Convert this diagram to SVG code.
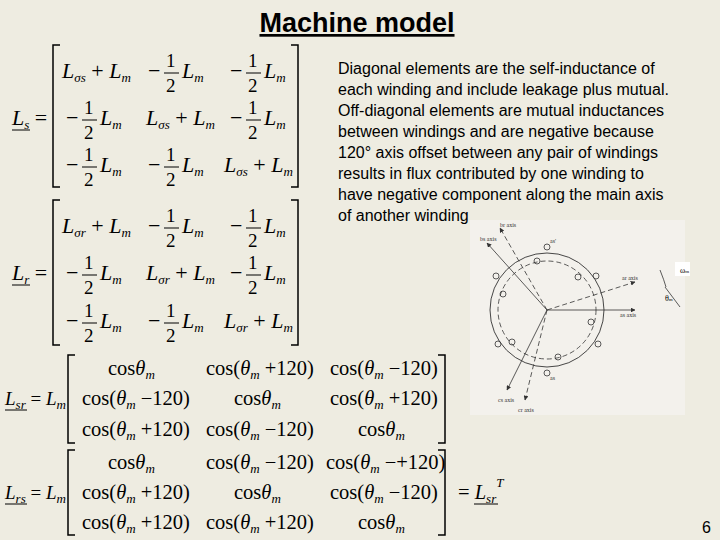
<svg xmlns="http://www.w3.org/2000/svg" width="720" height="540" viewBox="0 0 720 540">
<defs>
<style>
.m{font-family:"Liberation Serif",serif;font-size:22px;fill:#000}
.c{font-size:20.5px}
.i{font-style:italic}
.s{font-size:13px;font-style:italic}
.n{font-size:19px}
.br{fill:none;stroke:#000;stroke-width:1.5}
.t{font-family:"Liberation Sans",Arial,sans-serif;font-size:16px;fill:#000}
.f{font-family:"Liberation Serif",serif;font-size:6px;fill:#333}
.ax{stroke:#333;stroke-width:0.8;fill:none}
</style>
<marker id="a" viewBox="0 0 10 10" refX="9" refY="5" markerWidth="6" markerHeight="6" orient="auto"><path d="M0,0L10,5L0,10z" fill="#333"/></marker>
</defs>
<rect width="720" height="540" fill="#eeece1"/>
<text x="357" y="32" text-anchor="middle" font-family="Liberation Sans,Arial,sans-serif" font-size="27" font-weight="bold" text-decoration="underline">Machine model</text>
<g id="desc" class="t">
<text x="338" y="74">Diagonal elements are the self-inductance of</text>
<text x="338" y="95">each winding and include leakage plus mutual.</text>
<text x="338" y="116">Off-diagonal elements are mutual inductances</text>
<text x="338" y="137">between windings and are negative because</text>
<text x="338" y="158">120° axis offset between any pair of windings</text>
<text x="338" y="179">results in flux contributed by one winding to</text>
<text x="338" y="200">have negative component along the main axis</text>
<text x="338" y="221">of another winding</text>
</g>
<g id="Ls" class="m">
<text x="12" y="125" class="i">L<tspan class="s" dy="4">s</tspan><tspan dy="-4" font-style="normal"> =</tspan></text>
<line x1="12" y1="130" x2="30" y2="130" stroke="#000"/>
<path class="br" d="M60,45H53V187H60M291,45H298V187H291"/>
<text x="62" y="78" class="i">L<tspan class="s" dy="4">σs</tspan><tspan dy="-4" font-style="normal"> + </tspan>L<tspan class="s" dy="4">m</tspan></text>
<text x="148" y="78">− <tspan class="n" x="166" y="67">1</tspan><tspan class="n" x="166" y="92">2</tspan><tspan x="182" y="78" class="i">L</tspan><tspan class="s" dy="4">m</tspan></text>
<line x1="164" y1="73" x2="179" y2="73" stroke="#000"/>
<text x="230" y="78">− <tspan class="n" x="248" y="67">1</tspan><tspan class="n" x="248" y="92">2</tspan><tspan x="264" y="78" class="i">L</tspan><tspan class="s" dy="4">m</tspan></text>
<line x1="246" y1="73" x2="261" y2="73" stroke="#000"/>
<text x="66" y="125">− <tspan class="n" x="84" y="114">1</tspan><tspan class="n" x="84" y="139">2</tspan><tspan x="100" y="125" class="i">L</tspan><tspan class="s" dy="4">m</tspan></text>
<line x1="82" y1="120" x2="97" y2="120" stroke="#000"/>
<text x="146" y="125" class="i">L<tspan class="s" dy="4">σs</tspan><tspan dy="-4" font-style="normal"> + </tspan>L<tspan class="s" dy="4">m</tspan></text>
<text x="230" y="125">− <tspan class="n" x="248" y="114">1</tspan><tspan class="n" x="248" y="139">2</tspan><tspan x="264" y="125" class="i">L</tspan><tspan class="s" dy="4">m</tspan></text>
<line x1="246" y1="120" x2="261" y2="120" stroke="#000"/>
<text x="66" y="172">− <tspan class="n" x="84" y="161">1</tspan><tspan class="n" x="84" y="186">2</tspan><tspan x="100" y="172" class="i">L</tspan><tspan class="s" dy="4">m</tspan></text>
<line x1="82" y1="167" x2="97" y2="167" stroke="#000"/>
<text x="148" y="172">− <tspan class="n" x="166" y="161">1</tspan><tspan class="n" x="166" y="186">2</tspan><tspan x="182" y="172" class="i">L</tspan><tspan class="s" dy="4">m</tspan></text>
<line x1="164" y1="167" x2="179" y2="167" stroke="#000"/>
<text x="224" y="172" class="i">L<tspan class="s" dy="4">σs</tspan><tspan dy="-4" font-style="normal"> + </tspan>L<tspan class="s" dy="4">m</tspan></text>
</g>
<g id="Lr" class="m">
<text x="12" y="280" class="i">L<tspan class="s" dy="4">r</tspan><tspan dy="-4" font-style="normal"> =</tspan></text>
<line x1="12" y1="285" x2="30" y2="285" stroke="#000"/>
<path class="br" d="M60,200H53V345H60M291,200H298V345H291"/>
<text x="62" y="233" class="i">L<tspan class="s" dy="4">σr</tspan><tspan dy="-4" font-style="normal"> + </tspan>L<tspan class="s" dy="4">m</tspan></text>
<text x="148" y="233">− <tspan class="n" x="166" y="222">1</tspan><tspan class="n" x="166" y="247">2</tspan><tspan x="182" y="233" class="i">L</tspan><tspan class="s" dy="4">m</tspan></text>
<line x1="164" y1="228" x2="179" y2="228" stroke="#000"/>
<text x="230" y="233">− <tspan class="n" x="248" y="222">1</tspan><tspan class="n" x="248" y="247">2</tspan><tspan x="264" y="233" class="i">L</tspan><tspan class="s" dy="4">m</tspan></text>
<line x1="246" y1="228" x2="261" y2="228" stroke="#000"/>
<text x="66" y="280">− <tspan class="n" x="84" y="269">1</tspan><tspan class="n" x="84" y="294">2</tspan><tspan x="100" y="280" class="i">L</tspan><tspan class="s" dy="4">m</tspan></text>
<line x1="82" y1="275" x2="97" y2="275" stroke="#000"/>
<text x="146" y="280" class="i">L<tspan class="s" dy="4">σr</tspan><tspan dy="-4" font-style="normal"> + </tspan>L<tspan class="s" dy="4">m</tspan></text>
<text x="230" y="280">− <tspan class="n" x="248" y="269">1</tspan><tspan class="n" x="248" y="294">2</tspan><tspan x="264" y="280" class="i">L</tspan><tspan class="s" dy="4">m</tspan></text>
<line x1="246" y1="275" x2="261" y2="275" stroke="#000"/>
<text x="66" y="328">− <tspan class="n" x="84" y="317">1</tspan><tspan class="n" x="84" y="342">2</tspan><tspan x="100" y="328" class="i">L</tspan><tspan class="s" dy="4">m</tspan></text>
<line x1="82" y1="323" x2="97" y2="323" stroke="#000"/>
<text x="148" y="328">− <tspan class="n" x="166" y="317">1</tspan><tspan class="n" x="166" y="342">2</tspan><tspan x="182" y="328" class="i">L</tspan><tspan class="s" dy="4">m</tspan></text>
<line x1="164" y1="323" x2="179" y2="323" stroke="#000"/>
<text x="224" y="328" class="i">L<tspan class="s" dy="4">σr</tspan><tspan dy="-4" font-style="normal"> + </tspan>L<tspan class="s" dy="4">m</tspan></text>
</g>
<g id="Lsr" class="m c">
<text x="5" y="405" class="i" font-size="19">L<tspan class="s" dy="4">sr</tspan><tspan dy="-4" font-style="normal"> = </tspan>L<tspan class="s" dy="4">m</tspan></text>
<line x1="5" y1="410" x2="27" y2="410" stroke="#000"/>
<path class="br" d="M75,355H68V443H75M438,355H445V443H438"/>
<text x="108" y="375">cos<tspan class="i">θ</tspan><tspan class="s" dy="4">m</tspan></text>
<text x="206" y="375">cos(<tspan class="i">θ</tspan><tspan class="s" dy="4">m</tspan><tspan dy="-4"> +120)</tspan></text>
<text x="330" y="375">cos(<tspan class="i">θ</tspan><tspan class="s" dy="4">m</tspan><tspan dy="-4"> −120)</tspan></text>
<text x="82" y="405">cos(<tspan class="i">θ</tspan><tspan class="s" dy="4">m</tspan><tspan dy="-4"> −120)</tspan></text>
<text x="234" y="405">cos<tspan class="i">θ</tspan><tspan class="s" dy="4">m</tspan></text>
<text x="330" y="405">cos(<tspan class="i">θ</tspan><tspan class="s" dy="4">m</tspan><tspan dy="-4"> +120)</tspan></text>
<text x="82" y="436">cos(<tspan class="i">θ</tspan><tspan class="s" dy="4">m</tspan><tspan dy="-4"> +120)</tspan></text>
<text x="206" y="436">cos(<tspan class="i">θ</tspan><tspan class="s" dy="4">m</tspan><tspan dy="-4"> −120)</tspan></text>
<text x="358" y="436">cos<tspan class="i">θ</tspan><tspan class="s" dy="4">m</tspan></text>
</g>
<g id="Lrs" class="m c">
<text x="5" y="499" class="i" font-size="19">L<tspan class="s" dy="4">rs</tspan><tspan dy="-4" font-style="normal"> = </tspan>L<tspan class="s" dy="4">m</tspan></text>
<line x1="5" y1="504" x2="27" y2="504" stroke="#000"/>
<path class="br" d="M75,450H68V535H75M438,450H445V535H438"/>
<text x="108" y="469">cos<tspan class="i">θ</tspan><tspan class="s" dy="4">m</tspan></text>
<text x="206" y="469">cos(<tspan class="i">θ</tspan><tspan class="s" dy="4">m</tspan><tspan dy="-4"> −120)</tspan></text>
<text x="326" y="469">cos(<tspan class="i">θ</tspan><tspan class="s" dy="4">m</tspan><tspan dy="-4"> −+120)</tspan></text>
<text x="82" y="499">cos(<tspan class="i">θ</tspan><tspan class="s" dy="4">m</tspan><tspan dy="-4"> +120)</tspan></text>
<text x="234" y="499">cos<tspan class="i">θ</tspan><tspan class="s" dy="4">m</tspan></text>
<text x="330" y="499">cos(<tspan class="i">θ</tspan><tspan class="s" dy="4">m</tspan><tspan dy="-4"> −120)</tspan></text>
<text x="82" y="529">cos(<tspan class="i">θ</tspan><tspan class="s" dy="4">m</tspan><tspan dy="-4"> +120)</tspan></text>
<text x="206" y="529">cos(<tspan class="i">θ</tspan><tspan class="s" dy="4">m</tspan><tspan dy="-4"> +120)</tspan></text>
<text x="358" y="529">cos<tspan class="i">θ</tspan><tspan class="s" dy="4">m</tspan></text>
<text x="458" y="499">= <tspan class="i">L</tspan><tspan class="s" dy="4">sr</tspan><tspan class="s" dy="-16">T</tspan></text>
<line x1="474" y1="504" x2="498" y2="504" stroke="#000"/>
</g>
<g id="figure">
<rect x="470" y="220" width="215" height="195" fill="#f3f1ec"/>
<circle cx="547" cy="310" r="57" fill="none" stroke="#333" stroke-width="0.9"/>
<circle cx="547" cy="310" r="49" fill="none" stroke="#333" stroke-width="0.8" stroke-dasharray="5,3"/>
<g class="ax">
<line x1="547" y1="310" x2="635" y2="310" marker-end="url(#a)"/>
<line x1="547" y1="310" x2="635" y2="282" stroke-dasharray="5,3" marker-end="url(#a)"/>
<line x1="547" y1="310" x2="487" y2="243" marker-end="url(#a)"/>
<line x1="547" y1="310" x2="500" y2="228" stroke-dasharray="5,3" marker-end="url(#a)"/>
<line x1="547" y1="310" x2="507" y2="390" marker-end="url(#a)"/>
<line x1="547" y1="310" x2="525" y2="400" stroke-dasharray="5,3" marker-end="url(#a)"/>
<path d="M660,270 Q664,280 666,287"/>
<line x1="665" y1="287" x2="680" y2="307"/>
</g>
<g fill="none" stroke="#333" stroke-width="0.8">
<circle cx="547" cy="247" r="3"/><circle cx="547" cy="373" r="3"/>
<circle cx="596" cy="276" r="3"/><circle cx="498" cy="344" r="3"/>
<circle cx="496" cy="276" r="3"/><circle cx="598" cy="344" r="3"/>
<circle cx="537" cy="261" r="3"/><circle cx="558" cy="357" r="3"/>
<circle cx="578" cy="277" r="3"/><circle cx="512" cy="342" r="3"/>
<circle cx="503" cy="294" r="3"/><circle cx="591" cy="322" r="3"/>
</g>
<g class="f">
<text x="500" y="227">br axis</text><text x="480" y="241">bs axis</text>
<text x="622" y="280">ar axis</text><text x="620" y="317">as axis</text>
<text x="498" y="402">cs axis</text><text x="518" y="412">cr axis</text>
<text x="550" y="243">as'</text><text x="550" y="380">as</text>
</g>
<rect x="675" y="262" width="15" height="14" fill="#fff"/>
<text x="680" y="273" font-family="Liberation Serif,serif" font-size="8">ω<tspan font-size="5">m</tspan></text>
<text x="665" y="301" font-family="Liberation Serif,serif" font-size="8">θ<tspan font-size="5">m</tspan></text>
</g>
<text x="702" y="533" font-family="Liberation Sans,Arial,sans-serif" font-size="16">6</text>
</svg>
